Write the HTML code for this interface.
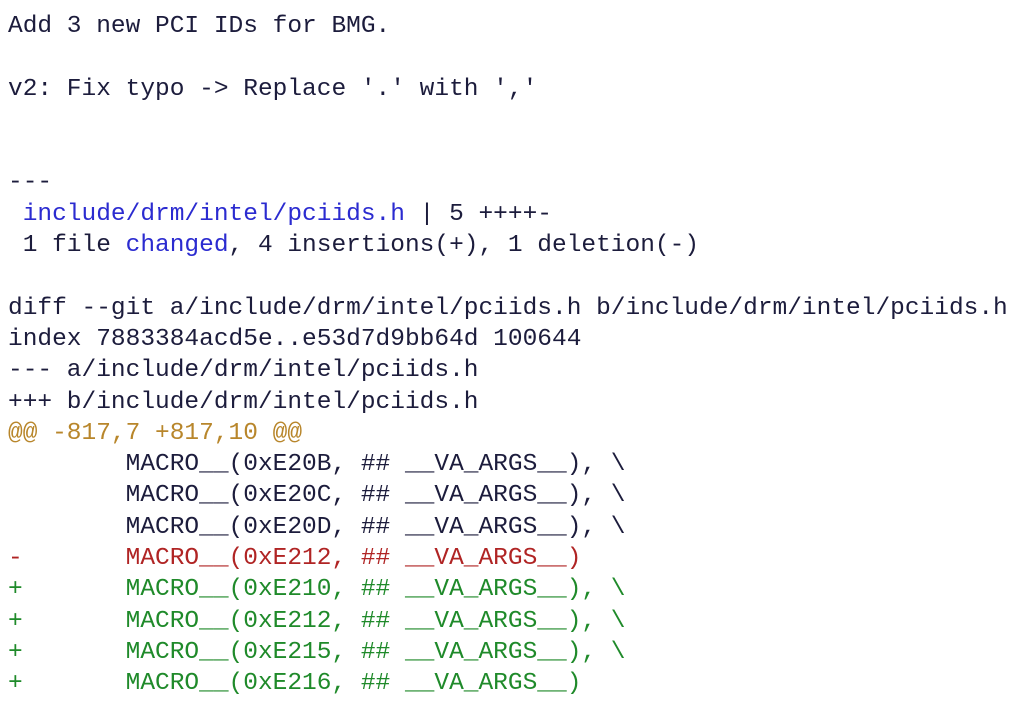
<!DOCTYPE html>
<html><head><meta charset="utf-8"><style>
html,body{margin:0;padding:0;background:#fff;width:1024px;height:708px;overflow:hidden}
pre{margin:0;padding:11px 0 0 8px;font-family:"Liberation Mono",monospace;font-size:24.5px;line-height:31.3px;color:#1c1c3c;white-space:pre}
.b{color:#2b2bd0}.r{color:#b02424}.g{color:#1f8a2a}.o{color:#b8862b}
</style></head><body><pre>Add 3 new PCI IDs for BMG.

v2: Fix typo -&gt; Replace '.' with ','


---
 <span class="b">include/drm/intel/pciids.h</span> | 5 ++++-
 1 file <span class="b">changed</span>, 4 insertions(+), 1 deletion(-)

diff --git a/include/drm/intel/pciids.h b/include/drm/intel/pciids.h
index 7883384acd5e..e53d7d9bb64d 100644
--- a/include/drm/intel/pciids.h
+++ b/include/drm/intel/pciids.h
<span class="o">@@ -817,7 +817,10 @@</span>
        MACRO__(0xE20B, ## __VA_ARGS__), \
        MACRO__(0xE20C, ## __VA_ARGS__), \
        MACRO__(0xE20D, ## __VA_ARGS__), \
<span class="r">-       MACRO__(0xE212, ## __VA_ARGS__)</span>
<span class="g">+       MACRO__(0xE210, ## __VA_ARGS__), \</span>
<span class="g">+       MACRO__(0xE212, ## __VA_ARGS__), \</span>
<span class="g">+       MACRO__(0xE215, ## __VA_ARGS__), \</span>
<span class="g">+       MACRO__(0xE216, ## __VA_ARGS__)</span></pre></body></html>
